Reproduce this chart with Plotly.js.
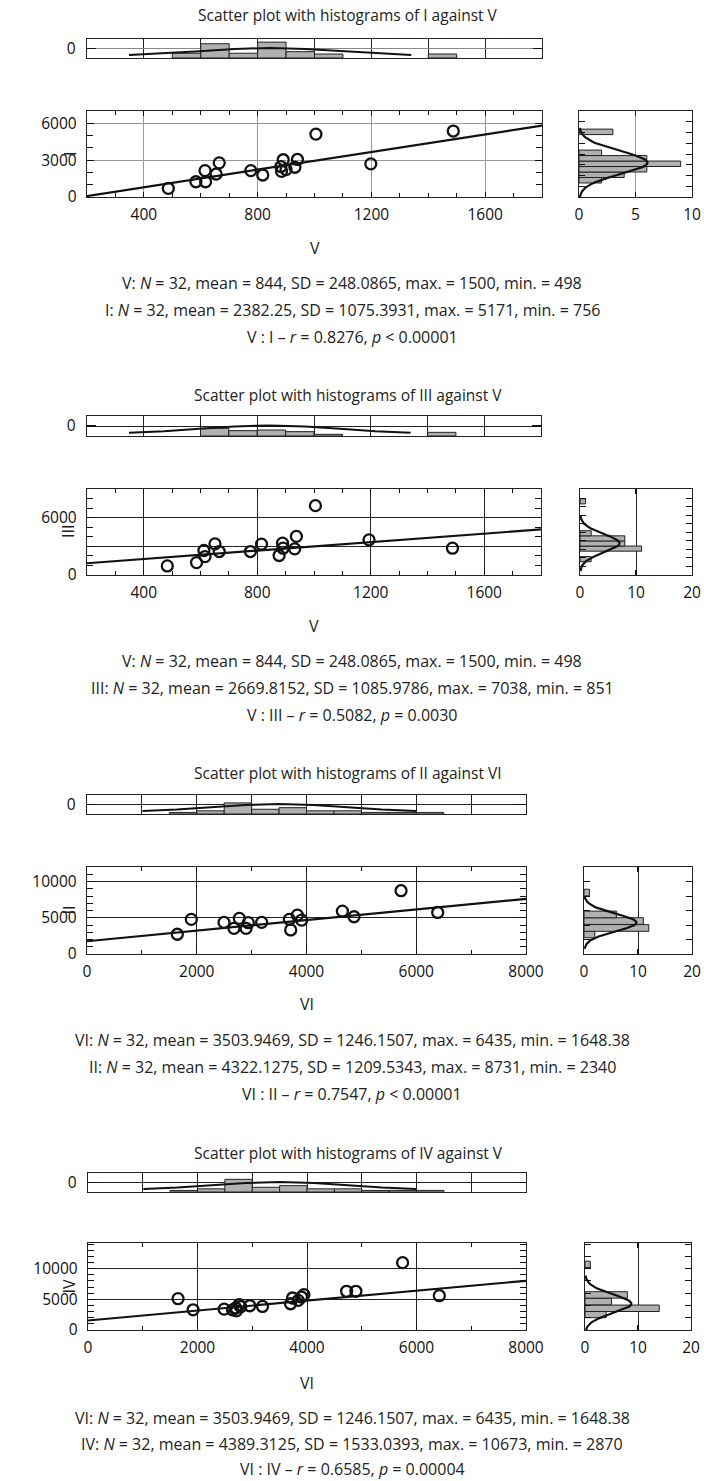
<!DOCTYPE html>
<html><head><meta charset="utf-8">
<script src="https://cdn.plot.ly/plotly-3.0.1.min.js"></script>
<style>html,body{margin:0;padding:0;background:#fff}#chart{width:704px;height:1481px}</style>
</head><body><div id="chart"></div>
<script>
// ---------- DATA ----------
// Panel 1: I against V
const p1X = [486, 583, 615, 617, 654, 665, 776, 818, 882, 890, 884, 900, 931, 940, 1005, 1198, 1488];
const p1Y = [700, 1240, 2150, 1240, 1870, 2780, 2150, 1790, 2480, 3030, 2090, 2230, 2420, 3055, 5120, 2700, 5370];
const p1TopBins = [550, 650, 750, 850, 950, 1050, 1450];
const p1TopCounts = [3, 9, 3, 10, 4, 2.5, 2.5];
const p1RightBins = [1560, 2070, 2580, 3090, 3600, 4110, 6060];
const p1RightCounts = [2, 4, 6, 9, 6, 2, 3];
const p1Stats = {xName: 'V', yName: 'I', n: 32, xMean: 844, xSD: 248.0865, xMax: 1500, xMin: 498,
  yMean: 2382.25, ySD: 1075.3931, yMax: 5171, yMin: 756, r: 0.8276, p: '< 0.00001'};

// Panel 2: III against V
const p2X = [483, 586, 616, 612, 651, 666, 776, 815, 877, 889, 891, 932, 938, 1005, 1194, 1488];
const p2Y = [953, 1306, 1940, 2576, 3280, 2470, 2470, 3250, 2050, 3350, 2820, 2750, 4060, 7300, 3700, 2820];
const p2TopBins = [650, 750, 850, 950, 1050, 1450];
const p2TopCounts = [4.6, 3.2, 3.6, 2.6, 1, 2.2];
const p2RightBins = [1860, 3100, 3700, 4300, 4900, 8650];
const p2RightCounts = [2, 11, 8, 8, 2, 1];
const p2Stats = {xName: 'V', yName: 'III', n: 32, xMean: 844, xSD: 248.0865, xMax: 1500, xMin: 498,
  yMean: 2669.8152, ySD: 1085.9786, yMax: 7038, yMin: 851, r: 0.5082, p: '= 0.0030'};

// Panel 3: II against VI
const p3X = [1646, 1901, 2497, 2679, 2776, 2898, 2940, 3183, 3688, 3712, 3833, 3912, 4654, 4866, 5723, 6391];
const p3Y = [2727, 4770, 4360, 3545, 4910, 3545, 4320, 4360, 4770, 3320, 5360, 4680, 5910, 5140, 8730, 5730];
const p3TopBins = [1750, 2250, 2750, 3250, 3750, 4250, 4750, 5250, 5750, 6250];
const p3TopCounts = [1, 2, 7, 3, 4, 2, 2, 1, 1, 1];
const p3RightBins = [2700, 3590, 4545, 5455, 8475];
const p3RightCounts = [2, 12, 11, 6, 1];
const p3Stats = {xName: 'VI', yName: 'II', n: 32, xMean: 3503.9469, xSD: 1246.1507, xMax: 6435, xMin: 1648.38,
  yMean: 4322.1275, ySD: 1209.5343, yMax: 8731, yMin: 2340, r: 0.7547, p: '< 0.00001'};

// Panel 4: IV against VI
const p4X = [1645, 1920, 2486, 2640, 2712, 2760, 2700, 2790, 2955, 3187, 3699, 3735, 3840, 3900, 3943, 4723, 4893, 5746, 6417];
const p4Y = [5110, 3300, 3407, 3300, 3132, 4120, 3600, 3800, 3956, 3846, 4286, 5220, 4835, 5385, 5770, 6320, 6320, 10990, 5600];
const p4TopBins = [1750, 2250, 2750, 3250, 3750, 4250, 4750, 5250, 5750, 6250];
const p4TopCounts = [1, 2, 8, 3, 4, 2, 2, 1, 1, 1];
const p4RightBins = [2535, 3545, 4635, 5725, 10710];
const p4RightCounts = [4, 14, 5, 8, 1];
const p4Stats = {xName: 'VI', yName: 'IV', n: 32, xMean: 3503.9469, xSD: 1246.1507, xMax: 6435, xMin: 1648.38,
  yMean: 4389.3125, ySD: 1533.0393, yMax: 10673, yMin: 2870, r: 0.6585, p: '= 0.00004'};

const titles = ['Scatter plot with histograms of I against V', 'Scatter plot with histograms of III against V',
  'Scatter plot with histograms of II against VI', 'Scatter plot with histograms of IV against V'];

// ---------- LAYOUT GEOMETRY (pixels) ----------
const W = 704, H = 1481;
const FONT = 'Open Sans, Noto Sans, sans-serif';
const TICKF = 15.5;
const panels = [
  {X: p1X, Y: p1Y, topBins: p1TopBins, topCounts: p1TopCounts, topBW: 100, rBins: p1RightBins, rCounts: p1RightCounts, rBW: 510,
   rFitMean: 3200, rFitSD: 1075, st: p1Stats,
   xr: [200, 1800], xt: [400, 800, 1200, 1600], xminor: 100, stripGrid: 200,
   yr: [0, 7000], yt: [0, 3000, 6000], ytl: ['0', '3000', '6000'], yminor: 1000,
   rxr: [0, 10], rxt: [0, 5, 10], ryr: [0, 8000], rydt: 1000, grid: '#999',
   title: 15, strip: [39, 58], sc: [111, 197], scx: [87, 542], stx: [87, 542], rx: [579, 692],
   xtitle: 248, ytitleX: 70, text: [283, 310, 337]},
  {X: p2X, Y: p2Y, topBins: p2TopBins, topCounts: p2TopCounts, topBW: 100, rBins: p2RightBins, rCounts: p2RightCounts, rBW: 600,
   rFitMean: 3725, rFitSD: 1086, st: p2Stats,
   xr: [200, 1800], xt: [400, 800, 1200, 1600], xminor: 100, stripGrid: 200,
   yr: [0, 9050], yt: [0, 3000, 6000], ytl: ['0', '', '6000'], yminor: 1000,
   rxr: [0, 20], rxt: [0, 10, 20], ryr: [0, 10100], rydt: 1000, grid: '#222',
   title: 395, strip: [416, 436], sc: [489, 575], scx: [87, 541], stx: [87, 541], rx: [580, 692],
   xtitle: 626, ytitleX: 68, text: [661, 688, 715]},
  {X: p3X, Y: p3Y, topBins: p3TopBins, topCounts: p3TopCounts, topBW: 500, rBins: p3RightBins, rCounts: p3RightCounts, rBW: 920,
   rFitMean: 4340, rFitSD: 1210, st: p3Stats,
   xr: [0, 8000], xt: [0, 2000, 4000, 6000, 8000], xminor: 1000, stripGrid: 1000,
   yr: [0, 12000], yt: [0, 5000, 10000], ytl: ['0', '5000', '10000'], yminor: 1000,
   rxr: [0, 20], rxt: [0, 10, 20], ryr: [0, 12000], rydt: 2000, grid: '#222',
   title: 773, strip: [795, 814], sc: [867, 954], scx: [87, 526], stx: [87, 526], rx: [584, 692],
   xtitle: 1004, ytitleX: 68, text: [1040, 1067, 1094]},
  {X: p4X, Y: p4Y, topBins: p4TopBins, topCounts: p4TopCounts, topBW: 500, rBins: p4RightBins, rCounts: p4RightCounts, rBW: 1050,
   rFitMean: 4280, rFitSD: 1533, st: p4Stats,
   xr: [0, 8000], xt: [0, 2000, 4000, 6000, 8000], xminor: 1000, stripGrid: 1000,
   yr: [0, 14200], yt: [0, 5000, 10000], ytl: ['0', '5000', '10000'], yminor: 1000,
   rxr: [0, 20], rxt: [0, 10, 20], ryr: [0, 14200], rydt: 2000, grid: '#222',
   title: 1153, strip: [1173, 1192], sc: [1243, 1330], scx: [88, 526], stx: [88, 526], rx: [585, 691],
   xtitle: 1383, ytitleX: 68, text: [1418, 1444, 1469]}
];

function dx(a, b) { return [a / W, b / W]; }
function dy(top, bot) { return [1 - bot / H, 1 - top / H]; }
function range(a, b, s) { const o = []; for (let v = a; v <= b + 1e-9; v += s) o.push(v); return o; }
function normalCurve(mean, sd, n, bw, k, steps) {
  const xs = [], ys = [];
  for (let i = 0; i <= steps; i++) {
    const v = mean - k * sd + (2 * k * sd) * i / steps;
    xs.push(v);
    ys.push(n * bw * Math.exp(-0.5 * Math.pow((v - mean) / sd, 2)) / (sd * Math.sqrt(2 * Math.PI)));
  }
  return [xs, ys];
}

const traces = [], layout = {
  width: W, height: H, margin: {l: 0, r: 0, t: 0, b: 0}, paper_bgcolor: '#fff', plot_bgcolor: '#fff',
  showlegend: false, font: {family: FONT, color: '#111', size: 14}, annotations: []
};

const axBase = {showline: true, linecolor: '#222', linewidth: 1.2, mirror: 'ticks', zeroline: false,
  tickcolor: '#111', tickfont: {family: FONT, size: TICKF, color: '#111'}, fixedrange: true};

panels.forEach((P, i) => {
  const sIdx = 3 * i + 1, tIdx = 3 * i + 2, rIdx = 3 * i + 3;
  const xs = 'x' + (sIdx === 1 ? '' : sIdx), ys = 'y' + (sIdx === 1 ? '' : sIdx);
  const xt = 'x' + tIdx, yt = 'y' + tIdx, xr = 'x' + rIdx, yr = 'y' + rIdx;
  const n = (k) => (k === 1 ? '' : k);

  // scatter axes
  layout['xaxis' + n(sIdx)] = Object.assign({}, axBase, {domain: dx(P.scx[0], P.scx[1]), anchor: ys, range: P.xr,
    tickmode: 'array', tickvals: P.xt, ticks: 'inside', ticklen: 5, showgrid: true, gridcolor: P.grid, gridwidth: 1,
    minor: {ticks: 'inside', tick0: 0, dtick: P.xminor, ticklen: 4, tickcolor: '#111', showgrid: false},
    ticklabelstandoff: 3});
  layout['yaxis' + n(sIdx)] = Object.assign({}, axBase, {domain: dy(P.sc[0], P.sc[1]), anchor: xs, range: P.yr,
    tickmode: 'array', tickvals: P.yt, ticktext: P.ytl, ticks: 'inside', ticklen: 7, showgrid: true, gridcolor: P.grid, gridwidth: 1,
    minor: {ticks: 'inside', tick0: 0, dtick: P.yminor, ticklen: 6, tickcolor: '#111', showgrid: false},
    ticklabelstandoff: 6});

  // top strip axes
  layout['xaxis' + tIdx] = Object.assign({}, axBase, {domain: dx(P.stx[0], P.stx[1]), anchor: yt, range: P.xr,
    tickmode: 'array', tickvals: range(P.xr[0], P.xr[1], P.stripGrid), showticklabels: false, ticks: '',
    showgrid: true, gridcolor: '#222', gridwidth: 1});
  layout['yaxis' + tIdx] = Object.assign({}, axBase, {domain: dy(P.strip[0], P.strip[1]), anchor: xt, range: [-6, 6],
    tickmode: 'array', tickvals: [0], ticktext: ['0'], ticks: 'inside', ticklen: 9, tickwidth: 1.5,
    showgrid: true, gridcolor: i === 0 ? '#888' : '#222', gridwidth: 1, ticklabelstandoff: 7});

  // right histogram axes
  layout['xaxis' + rIdx] = Object.assign({}, axBase, {domain: dx(P.rx[0], P.rx[1]), anchor: yr, range: P.rxr,
    tickmode: 'array', tickvals: P.rxt, ticks: 'inside', ticklen: 5, tickwidth: 1.5, showgrid: true,
    gridcolor: i === 0 ? '#999' : '#222', gridwidth: 1, ticklabelstandoff: 3});
  layout['yaxis' + rIdx] = Object.assign({}, axBase, {domain: dy(P.sc[0], P.sc[1]), anchor: xr, range: P.ryr,
    tickmode: 'array', tickvals: range(P.rydt, P.ryr[1], P.rydt), showticklabels: false, ticks: 'inside', ticklen: 6,
    showgrid: false});

  // top strip histogram
  traces.push({type: 'bar', x: P.topBins, y: P.topCounts, base: -6, width: P.topBW, xaxis: xt, yaxis: yt,
    marker: {color: '#b0b0b0', line: {color: '#222', width: 1}}, hoverinfo: 'skip'});
  const tc = normalCurve(P.st.xMean, P.st.xSD, P.st.n, P.topBW, 2, 8);
  traces.push({type: 'scatter', mode: 'lines', x: tc[0], y: tc[1].map(v => v - 4.8), xaxis: xt, yaxis: yt,
    line: {color: '#111', width: 2}, hoverinfo: 'skip'});

  // scatter points
  traces.push({type: 'scatter', mode: 'markers', x: P.X, y: P.Y, xaxis: xs, yaxis: ys,
    marker: {symbol: 'circle-open', size: 11, color: '#111', line: {width: 2.3, color: '#111'}}, hoverinfo: 'skip'});
  // regression line from statistics
  const slope = P.st.r * P.st.ySD / P.st.xSD, icpt = P.st.yMean - slope * P.st.xMean;
  traces.push({type: 'scatter', mode: 'lines', x: P.xr, y: P.xr.map(v => icpt + slope * v), xaxis: xs, yaxis: ys,
    line: {color: '#111', width: 2.2}, hoverinfo: 'skip'});

  // right histogram
  traces.push({type: 'bar', orientation: 'h', y: P.rBins, x: P.rCounts, width: P.rBW, xaxis: xr, yaxis: yr,
    marker: {color: '#b0b0b0', line: {color: '#222', width: 1}}, hoverinfo: 'skip'});
  const rc = normalCurve(P.rFitMean, P.rFitSD, P.st.n, P.rBW, 3, 60);
  traces.push({type: 'scatter', mode: 'lines', y: rc[0], x: rc[1], xaxis: xr, yaxis: yr,
    line: {color: '#111', width: 2.2}, hoverinfo: 'skip'});

  // texts
  const A = layout.annotations;
  const cx = (P.scx[0] + P.scx[1]) / 2;
  A.push({text: titles[i], x: 348 / W, y: 1 - P.title / H, xref: 'paper', yref: 'paper', showarrow: false,
    xanchor: 'center', yanchor: 'middle', font: {size: 15.5, family: FONT, color: '#222'}});
  A.push({text: P.st.xName, x: cx / W, y: 1 - P.xtitle / H, xref: 'paper', yref: 'paper', showarrow: false,
    xanchor: 'center', yanchor: 'middle', font: {size: 16, family: FONT, color: '#222'}});
  A.push({text: P.st.yName, x: P.ytitleX / W, y: 1 - ((P.sc[0] + P.sc[1]) / 2) / H, xref: 'paper', yref: 'paper', showarrow: false,
    xanchor: 'center', yanchor: 'middle', textangle: -90, font: {size: 16, family: FONT, color: '#222'}});
  const s = P.st;
  const l1 = `${s.xName}: <i>N</i> = ${s.n}, mean = ${s.xMean}, SD = ${s.xSD}, max. = ${s.xMax}, min. = ${s.xMin}`;
  const l2 = `${s.yName}: <i>N</i> = ${s.n}, mean = ${s.yMean}, SD = ${s.ySD}, max. = ${s.yMax}, min. = ${s.yMin}`;
  const l3 = `${s.xName} : ${s.yName} – <i>r</i> = ${s.r}, <i>p</i> ${s.p}`;
  [l1, l2, l3].forEach((t, k) => A.push({text: t, x: 352 / W, y: 1 - P.text[k] / H, xref: 'paper', yref: 'paper',
    showarrow: false, xanchor: 'center', yanchor: 'middle', font: {size: 16, family: FONT, color: '#222'}}));
});

Plotly.newPlot('chart', traces, layout, {staticPlot: true, displayModeBar: false});
</script></body></html>
